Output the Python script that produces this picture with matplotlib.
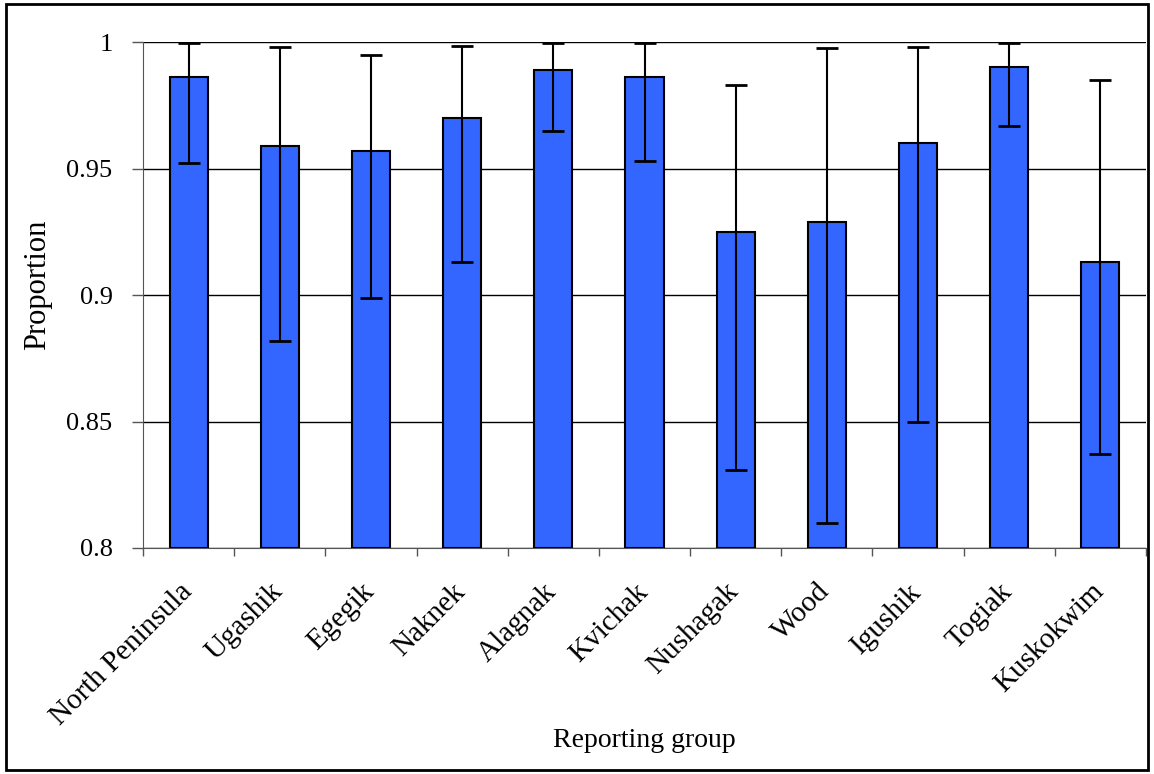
import numpy as np
import matplotlib
matplotlib.use('Agg')
import matplotlib.pyplot as plt
from matplotlib.patches import Rectangle
from matplotlib.transforms import ScaledTranslation

plt.rcParams['font.family'] = ['Liberation Serif', 'DejaVu Serif']

# Reporting groups with estimated proportions and 90% credibility bounds
groups = ['North Peninsula', 'Ugashik', 'Egegik', 'Naknek', 'Alagnak', 'Kvichak',
          'Nushagak', 'Wood', 'Igushik', 'Togiak', 'Kuskokwim']
proportion = [0.986, 0.959, 0.957, 0.970, 0.989, 0.986, 0.925, 0.929, 0.960, 0.990, 0.913]
lower = [0.952, 0.882, 0.899, 0.913, 0.965, 0.953, 0.831, 0.810, 0.850, 0.967, 0.837]
upper = [0.9996, 0.998, 0.995, 0.9985, 0.9996, 0.9996, 0.983, 0.9975, 0.998, 0.9996, 0.985]

prop = np.array(proportion)
yerr = np.vstack([prop - np.array(lower), np.array(upper) - prop])

fig = plt.figure(figsize=(11.54, 7.74), dpi=100)
ax = fig.add_axes([0.124, 0.292, 0.869, 0.6537])

x = np.arange(len(groups))
ax.bar(x, prop - 0.8, bottom=0.8, width=0.42, color='#3366FF', edgecolor='black',
       linewidth=1.5, zorder=3)
ax.errorbar(x, prop, yerr=yerr, fmt='none', ecolor='black', elinewidth=1.5,
            capsize=8, capthick=2, zorder=4)

ax.set_ylim(0.8, 1.0)
ax.set_xlim(-0.5, len(groups) - 0.5)
ax.set_yticks([0.8, 0.85, 0.9, 0.95, 1.0])
ax.set_yticklabels(['0.8', '0.85', '0.9', '0.95', '1'])
ax.yaxis.grid(True, color='black', linewidth=1, zorder=0)
ax.set_axisbelow(True)

# category labels under bars, ticks between categories
ax.set_xticks(x)
ax.set_xticklabels(groups, rotation=45, ha='right', rotation_mode='anchor')
ax.tick_params(axis='x', which='major', length=0, pad=22, labelsize=21)
shift = ScaledTranslation(-10 / 100, 0, fig.dpi_scale_trans)
for lbl in ax.get_xticklabels():
    lbl.set_transform(lbl.get_transform() + shift)
ax.set_xticks(np.arange(len(groups) + 1) - 0.5, minor=True)
ax.tick_params(axis='x', which='minor', length=6, width=1, color='#555555')
ax.tick_params(axis='y', length=8, width=1, color='#555555', labelsize=19, pad=14)

for side in ['top', 'right']:
    ax.spines[side].set_visible(False)
ax.spines['left'].set_color('#555555')
ax.spines['bottom'].set_color('#555555')

ax.set_xlabel('Reporting group', fontsize=20)
ax.xaxis.set_label_coords(0.5, -0.355)
ax.set_ylabel('Proportion', fontsize=22)
ax.yaxis.set_label_coords(-0.091, 0.52)

# outer frame around the whole figure
fig.patches.append(Rectangle((0.005, 0.005), 0.99, 0.99, transform=fig.transFigure,
                             fill=False, edgecolor='black', linewidth=2))

fig.savefig('out.png', dpi=100)
